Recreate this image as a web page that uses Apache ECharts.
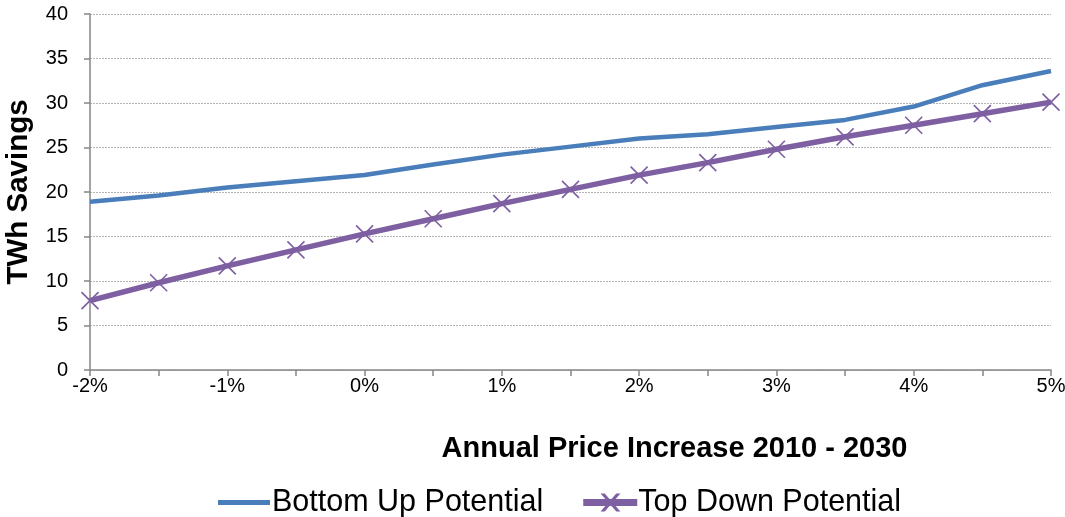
<!DOCTYPE html>
<html>
<head>
<meta charset="utf-8">
<script src="https://cdn.jsdelivr.net/npm/echarts@6/dist/echarts.min.js"></script>
<style>
  html, body { margin: 0; padding: 0; background: #fff; }
  #chart { width: 1065px; height: 517px; }
</style>
</head>
<body>
<div id="chart"></div>
<script>
// Annual price increase scenarios (2010 - 2030), in 0.5% steps
const categories = ['-2%', '-1.5%', '-1%', '-0.5%', '0%', '0.5%', '1%', '1.5%',
                    '2%', '2.5%', '3%', '3.5%', '4%', '4.5%', '5%'];

// TWh savings per scenario
const bottomUp = [18.9, 19.6, 20.5, 21.2, 21.9, 23.1, 24.2, 25.1,
                  26.0, 26.5, 27.3, 28.1, 29.6, 32.0, 33.6];
const topDown  = [7.8, 9.8, 11.7, 13.5, 15.3, 17.0, 18.7, 20.3,
                  21.9, 23.3, 24.8, 26.2, 27.5, 28.8, 30.1];

const seriesNames = ['Bottom Up Potential', 'Top Down Potential'];
const xTitle = 'Annual Price Increase 2010 - 2030';
const yTitle = 'TWh Savings';

const FONT = '"Liberation Sans", Arial, sans-serif';
const BLUE = '#4A7EBB';
const PURPLE = '#7E5FA1';
const crossPath = 'path://M0,0L10,10M10,0L0,10';

// Legend keys: a thick bar, and a thick bar with a thin cross over it
const barIcon = 'path://M0,6H52V11H0Z';
const barCrossIcon = 'path://M0,6H52V11H0Z' +
  'M18.5,0.5L20,0.5L34,16.5L32.5,16.5Z' +
  'M32.5,0.5L34,0.5L20,16.5L18.5,16.5Z';

const chart = echarts.init(document.getElementById('chart'), null, { renderer: 'canvas' });

chart.setOption({
  animation: false,
  backgroundColor: '#ffffff',
  textStyle: { fontFamily: FONT, color: '#000' },
  grid: { left: 90, right: 14, top: 14, bottom: 147, containLabel: false, outerBoundsMode: 'none' },
  legend: {
    left: 213,
    top: 482,
    itemWidth: 52,
    itemHeight: 17,
    itemGap: 40,
    textStyle: { fontFamily: FONT, fontSize: 30.5, color: '#000', padding: [0, 0, 0, -3] },
    data: [
      { name: seriesNames[0], icon: barIcon, itemStyle: { color: BLUE } },
      { name: seriesNames[1], icon: barCrossIcon, itemStyle: { color: PURPLE } }
    ]
  },
  xAxis: {
    type: 'category',
    data: categories,
    boundaryGap: false,
    name: xTitle,
    nameLocation: 'middle',
    nameGap: 64,
    nameTextStyle: { fontFamily: FONT, fontSize: 29, fontWeight: 'bold', color: '#000', padding: [0, 0, 0, 208] },
    axisLine: { lineStyle: { color: '#868686', width: 1.5 } },
    axisTick: { show: true, interval: 0, length: 6, lineStyle: { color: '#868686', width: 1.5 } },
    axisLabel: { interval: 1, margin: 6, fontFamily: FONT, fontSize: 20, color: '#000' },
    splitLine: { show: false }
  },
  yAxis: {
    type: 'value',
    min: 0,
    max: 40,
    interval: 5,
    name: yTitle,
    nameLocation: 'middle',
    nameGap: 56,
    nameTextStyle: { fontFamily: FONT, fontSize: 29.5, fontWeight: 'bold', color: '#000' },
    axisLine: { show: true, lineStyle: { color: '#868686', width: 1.5 } },
    axisTick: { show: true, length: 6, lineStyle: { color: '#868686', width: 1.5 } },
    axisLabel: { margin: 22, fontFamily: FONT, fontSize: 20, color: '#000' },
    splitLine: { show: true, lineStyle: { color: '#b5b5b5', width: 1, type: [2, 1] } }
  },
  series: [
    {
      name: seriesNames[0],
      type: 'line',
      data: bottomUp,
      showSymbol: false,
      symbol: 'none',
      lineStyle: { color: BLUE, width: 4.5, join: 'round' },
      itemStyle: { color: BLUE }
    },
    {
      name: seriesNames[1],
      type: 'line',
      data: topDown,
      symbol: crossPath,
      symbolSize: 17,
      showSymbol: true,
      lineStyle: { color: PURPLE, width: 5.5, join: 'round' },
      itemStyle: { color: 'rgba(0,0,0,0)', borderColor: PURPLE, borderWidth: 1.6 }
    }
  ]
});
</script>
</body>
</html>
